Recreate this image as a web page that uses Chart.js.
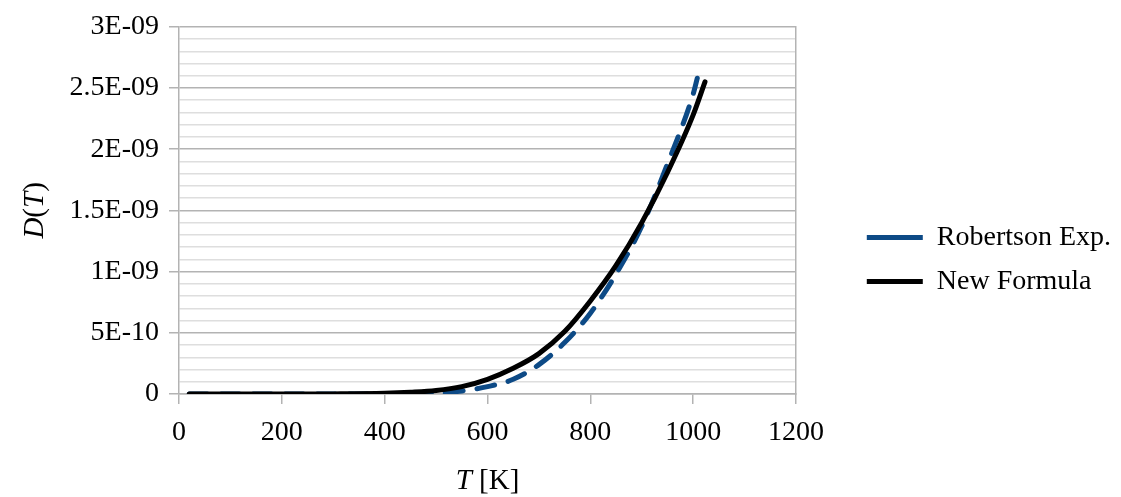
<!DOCTYPE html>
<html lang="en">
<head>
<meta charset="UTF-8">
<title>D(T)</title>
<script src="https://cdn.jsdelivr.net/npm/chart.js"></script>
<style>
  html, body { margin: 0; padding: 0; background: #fff; }
</style>
</head>
<body>
<canvas id="chart" width="1121" height="497"></canvas>
<script>
// values
const tempRobertson = [20, 100, 200, 300, 400, 450, 500, 550, 600, 650, 700, 750, 800, 850, 900, 950, 1000, 1008];
const diffRobertson = [0, 0, 0, 0, 0, 0.001e-9, 0.005e-9, 0.025e-9, 0.06e-9, 0.12e-9, 0.24e-9, 0.42e-9, 0.66e-9, 0.98e-9, 1.37e-9, 1.88e-9, 2.45e-9, 2.58e-9];

const tempNew = [20, 100, 200, 300, 400, 450, 500, 550, 600, 650, 700, 750, 800, 850, 900, 950, 1000, 1023];
const diffNew = [0, 0, 0, 0.001e-9, 0.006e-9, 0.014e-9, 0.028e-9, 0.06e-9, 0.12e-9, 0.21e-9, 0.33e-9, 0.51e-9, 0.76e-9, 1.05e-9, 1.4e-9, 1.81e-9, 2.28e-9, 2.55e-9];

const xTicks = [0, 200, 400, 600, 800, 1000, 1200];
const yTickLabels = ['0', '5E-10', '1E-09', '1.5E-09', '2E-09', '2.5E-09', '3E-09'];

const FONT = '"Liberation Serif", "Times New Roman", serif';
const MAJOR = '#b3b3b3';
const MINOR = '#dedede';

function toPoints(xs, ys) {
    return xs.map((x, i) => ({ x: x, y: ys[i] }));
}

// draws a title made of italic / upright pieces, centred on (cx, cy)
function drawParts(ctx, parts, cx, cy) {
    const fonts = parts.map(p => (p[1] ? 'italic ' : '') + '29px ' + FONT);
    const widths = parts.map((p, i) => { ctx.font = fonts[i]; return ctx.measureText(p[0]).width; });
    const total = widths.reduce((a, b) => a + b, 0);
    let x = cx - total / 2;
    ctx.textAlign = 'left';
    ctx.textBaseline = 'middle';
    parts.forEach((p, i) => {
        ctx.font = fonts[i];
        ctx.fillText(p[0], x, cy);
        x += widths[i];
    });
}

const axisTitles = {
    id: 'axisTitles',
    afterDraw(chart) {
        const { ctx, chartArea } = chart;
        ctx.save();
        ctx.fillStyle = '#000';
        drawParts(ctx, [['T', true], [' [K]', false]], (chartArea.left + chartArea.right) / 2, 481);
        ctx.translate(35, (chartArea.top + chartArea.bottom) / 2);
        ctx.rotate(-Math.PI / 2);
        drawParts(ctx, [['D', true], ['(', false], ['T', true], [')', false]], 0, 0);
        ctx.restore();
    }
};

const ctx = document.getElementById('chart').getContext('2d');
new Chart(ctx, {
    type: 'scatter',
    data: {
        datasets: [{
            label: 'Robertson Exp.',
            data: toPoints(tempRobertson, diffRobertson),
            showLine: true,
            borderColor: '#0d4a86',
            backgroundColor: '#0d4a86',
            borderWidth: 5,
            borderDash: [18, 14],
            borderCapStyle: 'round',
            cubicInterpolationMode: 'monotone',
            pointRadius: 0,
            order: 1
        }, {
            label: 'New Formula',
            data: toPoints(tempNew, diffNew),
            showLine: true,
            borderColor: '#000000',
            backgroundColor: '#000000',
            borderWidth: 5,
            borderCapStyle: 'round',
            cubicInterpolationMode: 'monotone',
            pointRadius: 0,
            order: 0
        }]
    },
    options: {
        responsive: false,
        animation: false,
        layout: { padding: { top: 22, left: 0, right: 0, bottom: 0 } },
        scales: {
            x: {
                type: 'linear',
                min: 0,
                max: 1200,
                afterFit: s => { s.height = 103; },
                afterBuildTicks: s => { s.ticks = xTicks.map(v => ({ value: v })); },
                ticks: {
                    font: { family: FONT, size: 28 },
                    color: '#000',
                    padding: 12,
                    callback: v => String(v)
                },
                grid: { drawOnChartArea: false, tickLength: 10, color: MAJOR, lineWidth: 1.5 },
                border: { color: MAJOR, width: 1.5 }
            },
            y: {
                min: 0,
                max: 3e-9,
                afterFit: s => { s.width = 179; },
                ticks: {
                    stepSize: 1e-10,
                    maxTicksLimit: 100,
                    autoSkip: false,
                    padding: 10,
                    font: { family: FONT, size: 28 },
                    color: '#000',
                    callback: (v, i) => (i % 5 === 0 ? yTickLabels[i / 5] : '')
                },
                grid: {
                    color: c => (c.index % 5 === 0 ? MAJOR : MINOR),
                    tickColor: c => (c.index % 5 === 0 ? MAJOR : 'rgba(0,0,0,0)'),
                    tickLength: 10,
                    lineWidth: 1.5
                },
                border: { color: MAJOR, width: 1.5 }
            },
            y2: {
                position: 'right',
                min: 0,
                max: 3e-9,
                grid: { display: false },
                ticks: { display: false },
                border: { color: MAJOR, width: 1.5 },
                afterFit: s => { s.width = 1121 - s.chart.legend.width - 796; }
            }
        },
        plugins: {
            tooltip: { enabled: false },
            legend: {
                position: 'right',
                maxWidth: 400,
                labels: {
                    usePointStyle: true,
                    pointStyle: 'line',
                    pointStyleWidth: 56,
                    padding: 16,
                    color: '#000',
                    font: { family: FONT, size: 28 },
                    sort: (a, b) => a.datasetIndex - b.datasetIndex
                }
            }
        }
    },
    plugins: [axisTitles]
});
</script>
</body>
</html>
